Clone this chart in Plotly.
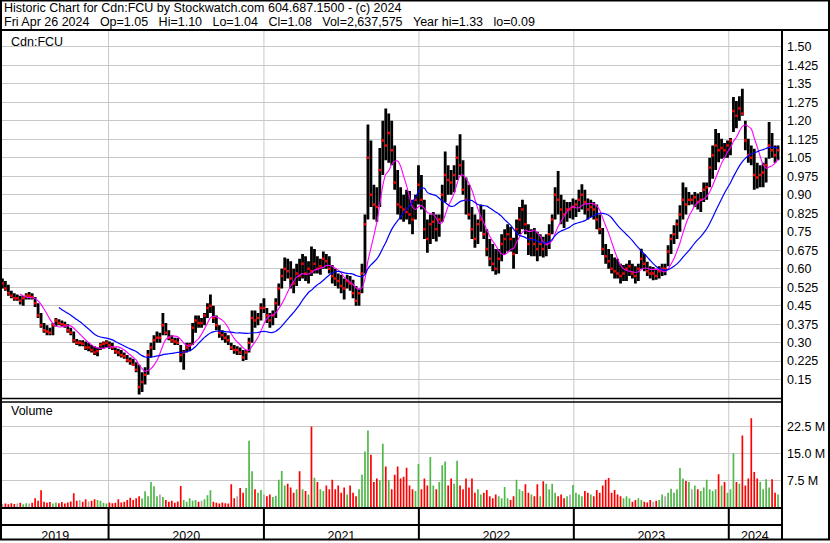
import pandas as pd
import plotly.graph_objects as go

W, H = 830, 543

# ---------------- data (weekly bars, week ending Friday) ----------------
first_week = "2019-04-26"
x_range = ["2019-04-25", "2024-05-03"]

high = [
    0.56, 0.55, 0.535, 0.51, 0.50, 0.495, 0.49, 0.49, 0.50, 0.505,
    0.50, 0.485, 0.46, 0.42, 0.38, 0.37, 0.36, 0.38, 0.40, 0.395,
    0.39, 0.385, 0.375, 0.36, 0.345, 0.315, 0.31, 0.31, 0.305, 0.30,
    0.29, 0.285, 0.28, 0.30, 0.305, 0.31, 0.305, 0.30, 0.28, 0.275,
    0.27, 0.26, 0.25, 0.24, 0.235, 0.22, 0.21, 0.18, 0.20, 0.27,
    0.30, 0.33, 0.345, 0.34, 0.42, 0.38, 0.35, 0.33, 0.32, 0.32,
    0.29, 0.27, 0.30, 0.30, 0.38, 0.41, 0.41, 0.40, 0.42, 0.46,
    0.495, 0.45, 0.41, 0.37, 0.35, 0.34, 0.33, 0.30, 0.29, 0.285,
    0.28, 0.27, 0.27, 0.32, 0.43, 0.43, 0.42, 0.46, 0.48, 0.44,
    0.42, 0.43, 0.48, 0.54, 0.60, 0.645, 0.64, 0.63, 0.60, 0.62,
    0.64, 0.66, 0.65, 0.63, 0.69, 0.68, 0.65, 0.64, 0.67, 0.66,
    0.65, 0.615, 0.60, 0.58, 0.575, 0.56, 0.575, 0.57, 0.555, 0.53,
    0.52, 0.62, 0.82, 1.185, 1.12, 0.94, 0.93, 1.09, 1.20, 1.25,
    1.23, 1.20, 1.10, 1.00, 0.93, 0.90, 0.92, 0.915, 0.88, 0.90,
    1.02, 0.98, 0.88, 0.80, 0.82, 0.83, 0.82, 0.82, 0.94, 1.075,
    1.02, 1.00, 1.02, 1.10, 1.145, 1.04, 0.97, 0.94, 0.85, 0.82,
    0.80, 0.86, 0.84, 0.76, 0.72, 0.70, 0.68, 0.68, 0.74, 0.76,
    0.78, 0.77, 0.725, 0.80, 0.85, 0.88, 0.86, 0.78, 0.76, 0.765,
    0.75, 0.74, 0.73, 0.74, 0.78, 0.82, 0.93, 0.996, 0.90, 0.88,
    0.87, 0.87, 0.885, 0.88, 0.92, 0.943, 0.92, 0.885, 0.88, 0.87,
    0.86, 0.82, 0.765, 0.70, 0.68, 0.66, 0.645, 0.64, 0.62, 0.615,
    0.62, 0.634, 0.62, 0.61, 0.62, 0.681, 0.66, 0.628, 0.61, 0.607,
    0.60, 0.61, 0.62, 0.62, 0.695, 0.74, 0.776, 0.80, 0.857, 0.95,
    0.93, 0.911, 0.90, 0.911, 0.905, 0.911, 0.95, 0.95, 1.05, 1.10,
    1.167, 1.15, 1.127, 1.11, 1.12, 1.13, 1.296, 1.28, 1.30, 1.33,
    1.20, 1.127, 1.10, 1.087, 1.03, 1.02, 1.03, 1.05, 1.195, 1.15,
    1.10, 1.10,
]

low = [
    0.52, 0.51, 0.49, 0.48, 0.47, 0.47, 0.455, 0.45, 0.475, 0.475,
    0.475, 0.445, 0.40, 0.36, 0.34, 0.33, 0.33, 0.33, 0.365, 0.37,
    0.365, 0.36, 0.34, 0.33, 0.30, 0.29, 0.285, 0.285, 0.27, 0.265,
    0.26, 0.25, 0.245, 0.27, 0.275, 0.28, 0.275, 0.27, 0.255, 0.245,
    0.24, 0.235, 0.22, 0.21, 0.205, 0.18, 0.09, 0.10, 0.13, 0.17,
    0.24, 0.27, 0.30, 0.30, 0.33, 0.33, 0.31, 0.30, 0.29, 0.29,
    0.22, 0.19, 0.26, 0.265, 0.29, 0.34, 0.36, 0.36, 0.37, 0.40,
    0.42, 0.38, 0.35, 0.32, 0.31, 0.30, 0.29, 0.27, 0.255, 0.25,
    0.25, 0.225, 0.23, 0.26, 0.30, 0.36, 0.37, 0.39, 0.42, 0.38,
    0.36, 0.37, 0.40, 0.45, 0.52, 0.55, 0.56, 0.52, 0.50, 0.53,
    0.55, 0.56, 0.55, 0.54, 0.57, 0.58, 0.58, 0.575, 0.60, 0.60,
    0.58, 0.54, 0.53, 0.52, 0.50, 0.475, 0.52, 0.51, 0.48, 0.45,
    0.45, 0.50, 0.58, 0.80, 0.85, 0.80, 0.79, 0.85, 0.98, 1.04,
    1.03, 1.02, 0.92, 0.82, 0.80, 0.79, 0.80, 0.78, 0.74, 0.80,
    0.86, 0.84, 0.72, 0.665, 0.70, 0.72, 0.71, 0.73, 0.79, 0.87,
    0.90, 0.90, 0.91, 0.96, 0.98, 0.90, 0.82, 0.80, 0.72, 0.685,
    0.70, 0.75, 0.72, 0.65, 0.61, 0.59, 0.575, 0.58, 0.63, 0.66,
    0.67, 0.67, 0.60, 0.66, 0.74, 0.76, 0.74, 0.655, 0.65, 0.65,
    0.63, 0.65, 0.645, 0.65, 0.68, 0.74, 0.80, 0.82, 0.78, 0.765,
    0.79, 0.805, 0.80, 0.81, 0.83, 0.84, 0.82, 0.80, 0.81, 0.80,
    0.76, 0.74, 0.655, 0.62, 0.60, 0.58, 0.56, 0.56, 0.54, 0.55,
    0.55, 0.57, 0.56, 0.54, 0.55, 0.60, 0.59, 0.57, 0.56, 0.553,
    0.555, 0.56, 0.57, 0.573, 0.61, 0.66, 0.70, 0.72, 0.75, 0.80,
    0.82, 0.857, 0.86, 0.85, 0.84, 0.83, 0.87, 0.88, 0.93, 0.965,
    1.00, 1.032, 1.046, 1.05, 1.05, 1.06, 1.154, 1.17, 1.20, 1.22,
    1.08, 1.03, 1.02, 0.92, 0.925, 0.93, 0.93, 0.95, 1.046, 1.05,
    1.03, 1.04,
]

close = [
    0.54, 0.52, 0.50, 0.49, 0.48, 0.48, 0.47, 0.48, 0.49, 0.49,
    0.485, 0.46, 0.41, 0.37, 0.35, 0.345, 0.34, 0.37, 0.39, 0.38,
    0.375, 0.37, 0.35, 0.34, 0.31, 0.30, 0.30, 0.295, 0.28, 0.28,
    0.27, 0.26, 0.265, 0.29, 0.295, 0.30, 0.29, 0.28, 0.265, 0.26,
    0.25, 0.245, 0.23, 0.225, 0.21, 0.19, 0.12, 0.14, 0.17, 0.25,
    0.28, 0.31, 0.32, 0.32, 0.37, 0.34, 0.32, 0.31, 0.305, 0.30,
    0.25, 0.26, 0.28, 0.29, 0.36, 0.39, 0.38, 0.38, 0.41, 0.44,
    0.45, 0.40, 0.37, 0.34, 0.33, 0.32, 0.31, 0.28, 0.27, 0.27,
    0.26, 0.24, 0.26, 0.30, 0.40, 0.39, 0.40, 0.44, 0.44, 0.41,
    0.39, 0.41, 0.46, 0.52, 0.57, 0.60, 0.59, 0.56, 0.54, 0.58,
    0.57, 0.62, 0.58, 0.60, 0.59, 0.62, 0.60, 0.61, 0.64, 0.63,
    0.60, 0.57, 0.56, 0.55, 0.53, 0.52, 0.55, 0.54, 0.50, 0.47,
    0.50, 0.58, 0.78, 1.05, 0.90, 0.86, 0.85, 1.00, 1.12, 1.10,
    1.15, 1.08, 0.95, 0.86, 0.85, 0.84, 0.83, 0.82, 0.80, 0.88,
    0.94, 0.88, 0.76, 0.72, 0.78, 0.79, 0.76, 0.80, 0.90, 0.98,
    0.96, 0.95, 0.98, 1.05, 1.02, 0.92, 0.88, 0.82, 0.76, 0.72,
    0.78, 0.80, 0.74, 0.68, 0.64, 0.62, 0.60, 0.64, 0.70, 0.72,
    0.74, 0.72, 0.66, 0.76, 0.80, 0.84, 0.78, 0.70, 0.72, 0.70,
    0.68, 0.70, 0.68, 0.70, 0.74, 0.80, 0.90, 0.88, 0.84, 0.82,
    0.84, 0.84, 0.85, 0.86, 0.88, 0.90, 0.87, 0.84, 0.85, 0.84,
    0.80, 0.76, 0.68, 0.65, 0.63, 0.60, 0.59, 0.58, 0.57, 0.58,
    0.60, 0.61, 0.58, 0.57, 0.60, 0.64, 0.62, 0.59, 0.58, 0.58,
    0.57, 0.59, 0.60, 0.60, 0.67, 0.72, 0.74, 0.78, 0.82, 0.88,
    0.86, 0.88, 0.88, 0.89, 0.87, 0.88, 0.92, 0.93, 1.01, 1.06,
    1.10, 1.08, 1.09, 1.08, 1.10, 1.12, 1.24, 1.22, 1.25, 1.23,
    1.12, 1.06, 1.05, 0.98, 0.97, 0.98, 0.99, 1.02, 1.10, 1.08,
    1.06, 1.08,
]

volume_m = [
    0.9, 1.0, 0.8, 1.1, 0.9, 1.0, 1.2, 0.8, 1.1, 1.0,
    1.2, 2.5, 1.8, 4.7, 1.5, 1.2, 1.4, 1.0, 1.3, 1.1,
    1.4, 1.0, 1.3, 1.6, 3.9, 1.8, 2.0, 1.5, 2.2, 1.6,
    1.8, 2.2, 2.0, 1.8, 1.2, 1.0, 1.3, 1.1, 1.2, 2.2,
    1.3, 1.5, 2.0, 2.6, 2.0, 2.5, 3.0, 2.4, 4.4, 3.0,
    7.0, 5.8, 3.0, 3.5, 2.8, 2.0, 1.5, 1.8, 1.2, 1.6,
    5.9, 2.0, 1.5, 2.5, 1.8, 2.0, 1.5, 1.8, 2.2, 3.3,
    4.7, 1.5, 1.2, 1.0, 1.3, 1.1, 1.0, 6.4, 2.5, 3.0,
    5.3, 4.0, 5.3, 18.5, 10.0, 5.0, 4.0, 4.8, 3.5, 3.0,
    3.5, 2.8, 3.2, 7.6, 10.1, 6.0, 6.5, 5.5, 4.0, 5.0,
    10.0, 5.0, 4.5, 3.5, 22.5, 8.2, 7.0, 5.0, 4.5, 6.0,
    5.0, 7.6, 5.0, 6.0, 4.0, 5.5, 3.5, 6.0, 4.0, 3.0,
    5.0, 9.0, 15.5, 21.4, 14.6, 7.0, 8.0, 7.5, 17.7, 11.3,
    7.5, 5.0, 9.0, 11.3, 8.0, 8.5, 11.0, 6.0, 5.0, 4.5,
    12.0, 5.0, 8.0, 6.0, 14.0, 6.0, 5.0, 7.0, 11.7, 12.7,
    6.0, 8.0, 6.5, 12.9, 6.0, 5.0, 8.0, 5.5, 8.0, 4.0,
    5.0, 3.5, 4.0, 4.8, 3.0, 2.5, 3.5, 3.0, 2.5, 5.6,
    2.5, 2.0, 3.0, 7.6, 5.0, 4.5, 6.4, 4.0, 3.5, 3.0,
    6.4, 3.0, 7.2, 6.5, 5.0, 6.5, 4.0, 3.0, 3.5, 2.5,
    3.0, 3.5, 6.2, 4.0, 3.5, 3.0, 4.5, 4.0, 3.5, 3.0,
    4.8, 4.0, 6.0, 7.6, 8.1, 4.0, 4.8, 3.5, 3.0, 2.5,
    3.0, 2.5, 1.5, 2.0, 2.5, 2.0, 1.5, 1.3, 2.0, 1.5,
    1.8, 2.0, 3.5, 3.0, 4.0, 5.1, 4.0, 5.0, 10.9, 8.0,
    7.3, 7.0, 5.0, 6.0, 5.0, 4.5, 5.5, 7.6, 5.0, 4.5,
    5.0, 9.2, 6.0, 7.0, 4.0, 5.0, 15.0, 7.0, 6.5, 20.0,
    6.0, 8.0, 24.8, 9.8, 8.0, 7.0, 5.0, 7.8, 5.5, 7.8,
    4.0, 3.5,
]

price_ticks = [0.15, 0.225, 0.30, 0.375, 0.45, 0.525, 0.60, 0.675, 0.75, 0.825,
               0.90, 0.975, 1.05, 1.125, 1.20, 1.275, 1.35, 1.425, 1.50]
price_tick_text = ["0.15", "0.225", "0.30", "0.375", "0.45", "0.525", "0.60", "0.675",
                   "0.75", "0.825", "0.90", "0.975", "1.05", "1.125", "1.20", "1.275",
                   "1.35", "1.425", "1.50"]
volume_ticks = [7.5e6, 15.0e6, 22.5e6]
volume_tick_text = ["7.5 M", "15.0 M", "22.5 M"]
years = [2019, 2020, 2021, 2022, 2023, 2024]

GAP = "\u00a0\u00a0\u00a0"
header_line1 = "Historic Chart for Cdn:FCU by Stockwatch.com 604.687.1500 - (c) 2024"
header_line2 = GAP.join(["Fri Apr 26 2024", "Op=1.05", "Hi=1.10", "Lo=1.04", "Cl=1.08",
                         "Vol=2,637,575", "Year hi=1.33", "lo=0.09"])
symbol_label = "Cdn:FCU"
volume_label = "Volume"

assert len(high) == len(low) == len(close) == len(volume_m)

# ---------------- helpers ----------------
FONT = "Liberation Sans, Arial, sans-serif"
GRID = "#c8c8c8"
GREEN, RED, GRAY = "#4fb848", "#ff0000", "#a8a8a8"


def px(x):
    return x / W


def py(y):
    return 1 - y / H


dates = pd.date_range(first_week, periods=len(close), freq="7D")

bar_x, bar_y = [], []
for d, lo_, hi_ in zip(dates, low, high):
    bar_x += [d, d, None]
    bar_y += [lo_, hi_, None]

ma_fast = pd.Series(close).rolling(7).mean()
ma_slow = pd.Series(close).rolling(20).mean()

vol_colors = []
prev = None
for c in close:
    if prev is None or c == prev:
        vol_colors.append(GRAY)
    elif c > prev:
        vol_colors.append(GREEN)
    else:
        vol_colors.append(RED)
    prev = c

r0, r1 = pd.Timestamp(x_range[0]), pd.Timestamp(x_range[1])
year_starts = [pd.Timestamp(f"{y}-01-01") for y in years[1:]]
year_mids = []
for y in years:
    a = max(pd.Timestamp(f"{y}-01-01"), r0)
    b = min(pd.Timestamp(f"{y + 1}-01-01"), r1)
    year_mids.append(a + (b - a) / 2)

# ---------------- figure ----------------
fig = go.Figure()
fig.add_trace(go.Scatter(x=bar_x, y=bar_y, mode="lines",
                         line=dict(color="black", width=2.8),
                         xaxis="x", yaxis="y", hoverinfo="skip"))
fig.add_trace(go.Scatter(x=dates, y=close, mode="markers",
                         marker=dict(color="#ff0000", size=2.5, symbol="square", line=dict(width=0)),
                         xaxis="x", yaxis="y", hoverinfo="skip"))
fig.add_trace(go.Scatter(x=dates, y=ma_fast, mode="lines",
                         line=dict(color="#ff00ff", width=1.1, shape="spline", smoothing=0.8),
                         xaxis="x", yaxis="y", hoverinfo="skip"))
fig.add_trace(go.Scatter(x=dates, y=ma_slow, mode="lines",
                         line=dict(color="#0000ff", width=1.2, shape="spline", smoothing=0.8),
                         xaxis="x", yaxis="y", hoverinfo="skip"))
fig.add_trace(go.Bar(x=dates, y=[v * 1e6 for v in volume_m],
                     marker=dict(color=vol_colors, line=dict(width=0)),
                     width=4 * 86400000, xaxis="x2", yaxis="y2", hoverinfo="skip"))

x_domain = [px(2), px(781)]
price_dom = [py(400), py(31)]
vol_dom = [py(509), py(404)]

price_range = [0.15 - 19 / 247.4, 1.50 + 16 / 247.4]
vol_range = [0, 29.17e6]

tick_font = dict(family=FONT, size=12.5, color="black")

fig.update_layout(
    width=W, height=H,
    margin=dict(l=0, r=0, t=0, b=0),
    paper_bgcolor="white", plot_bgcolor="white",
    showlegend=False,
    xaxis=dict(domain=x_domain, range=x_range, type="date", anchor="y",
               showticklabels=False, showgrid=False, zeroline=False, showline=False,
               ticks=""),
    xaxis2=dict(domain=x_domain, range=x_range, type="date", anchor="y2", matches="x",
                tickmode="array", tickvals=year_mids, ticktext=[str(y) for y in years],
                showgrid=False, zeroline=False, showline=False,
                ticks="outside", ticklen=17, tickcolor="rgba(0,0,0,0)",
                tickfont=dict(family=FONT, size=12.5, color="black")),
    yaxis=dict(domain=price_dom, range=price_range, anchor="x", side="right",
               tickmode="array", tickvals=price_ticks, ticktext=price_tick_text,
               showgrid=True, gridcolor=GRID, gridwidth=1, zeroline=False,
               showline=False, ticks="", ticklabelstandoff=5, tickfont=tick_font,
               automargin=False),
    yaxis2=dict(domain=vol_dom, range=vol_range, anchor="x2", side="right",
                tickmode="array", tickvals=volume_ticks, ticktext=volume_tick_text,
                showgrid=True, gridcolor=GRID, gridwidth=1, zeroline=False,
                showline=False, ticks="", ticklabelstandoff=5, tickfont=tick_font,
                automargin=False),
)

shapes = []
# year separators: gray in the panels, black in the date rows
for ys in year_starts:
    shapes.append(dict(type="line", xref="x", yref="paper", x0=ys, x1=ys,
                       y0=py(509), y1=py(31), line=dict(color=GRID, width=1), layer="below"))
    shapes.append(dict(type="line", xref="x2", yref="paper", x0=ys, x1=ys,
                       y0=py(541), y1=py(510), line=dict(color="black", width=2)))


def hline(y, x0, x1, w=2):
    shapes.append(dict(type="line", xref="paper", yref="paper", x0=px(x0), x1=px(x1),
                       y0=py(y), y1=py(y), line=dict(color="black", width=w)))


def vline(x, y0, y1, w=2):
    shapes.append(dict(type="line", xref="paper", yref="paper", x0=px(x), x1=px(x),
                       y0=py(y0), y1=py(y1), line=dict(color="black", width=w)))


hline(30, 0, 830)
hline(400, 0, 782, 1.5)
hline(403.5, 0, 782, 1.5)
hline(510, 0, 782)
hline(527, 0, 782)
vline(782, 30, 541.5)
shapes.append(dict(type="rect", xref="paper", yref="paper", x0=px(1), x1=px(829),
                   y0=py(541.5), y1=py(0.5), line=dict(color="black", width=2)))

fig.update_layout(shapes=shapes)

ann_font = dict(family=FONT, size=12.5, color="black")
annotations = [
    dict(text=header_line1, x=px(2), y=py(8), xanchor="left", yanchor="middle"),
    dict(text=header_line2, x=px(2), y=py(22), xanchor="left", yanchor="middle"),
    dict(text=symbol_label, x=px(9), y=py(42), xanchor="left", yanchor="middle"),
    dict(text=volume_label, x=px(9), y=py(413), xanchor="left", yanchor="middle"),
]
for a in annotations:
    a.update(xref="paper", yref="paper", showarrow=False, font=ann_font)
fig.update_layout(annotations=annotations)

fig.write_html("out.html",
               config={"displayModeBar": False, "staticPlot": True},
               post_script="document.body.style.margin='0';document.body.style.padding='0';")
